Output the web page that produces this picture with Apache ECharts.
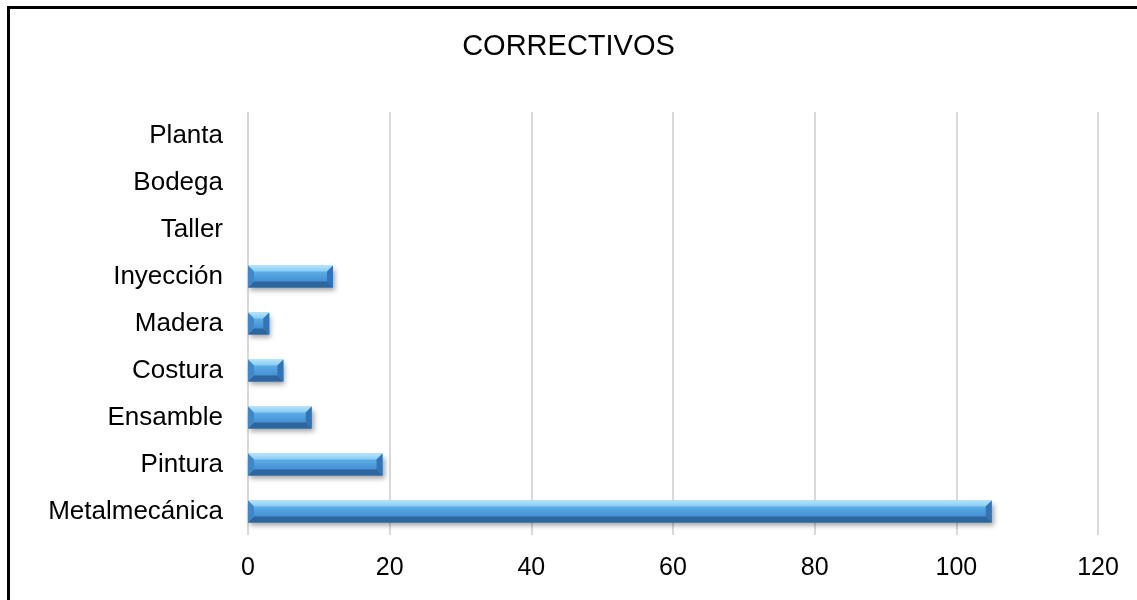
<!DOCTYPE html>
<html>
<head>
<meta charset="utf-8">
<script src="https://cdn.jsdelivr.net/npm/echarts@6/dist/echarts.min.js"></script>
<style>
  html, body { margin: 0; padding: 0; background: #fff; }
  #chart { width: 1137px; height: 600px; }
</style>
</head>
<body>
<div id="chart"></div>
<script>
const categories = ['Metalmecánica', 'Pintura', 'Ensamble', 'Costura', 'Madera', 'Inyección', 'Taller', 'Bodega', 'Planta'];
const values = [105, 19, 9, 5, 3, 12, 0, 0, 0];
const xTicks = [0, 20, 40, 60, 80, 100, 120];

const chart = echarts.init(document.getElementById('chart'));

const BAR_H = 22;

function renderBevelBar(params, api) {
  const idx = api.value(0);
  const val = api.value(1);
  if (!val) return null;
  const start = api.coord([0, idx]);
  const end = api.coord([val, idx]);
  const x0 = start[0], x1 = end[0];
  const y0 = start[1] - BAR_H / 2, y1 = start[1] + BAR_H / 2;
  const w = x1 - x0;
  const b = Math.min(6, w / 2, BAR_H / 2);
  return {
    type: 'group',
    children: [
      {
        type: 'rect',
        shape: { x: x0, y: y0, width: w, height: BAR_H },
        style: {
          fill: new echarts.graphic.LinearGradient(0, 0, 0, 1, [
            { offset: 0, color: '#72c0f0' },
            { offset: 0.5, color: '#4f9edd' },
            { offset: 1, color: '#3a7fc1' }
          ]),
          shadowBlur: 5,
          shadowOffsetX: 2,
          shadowOffsetY: 3,
          shadowColor: 'rgba(0,0,0,0.35)'
        }
      },
      { // top bevel
        type: 'polygon',
        shape: { points: [[x0, y0], [x1, y0], [x1 - b, y0 + b], [x0 + b, y0 + b]] },
        style: {
          fill: new echarts.graphic.LinearGradient(0, 0, 0, 1, [
            { offset: 0, color: '#b5e3fa' },
            { offset: 1, color: '#86ccf3' }
          ])
        }
      },
      { // bottom bevel
        type: 'polygon',
        shape: { points: [[x0, y1], [x1, y1], [x1 - b, y1 - b], [x0 + b, y1 - b]] },
        style: { fill: '#2d659e' }
      },
      { // left bevel
        type: 'polygon',
        shape: { points: [[x0, y0], [x0 + b, y0 + b], [x0 + b, y1 - b], [x0, y1]] },
        style: { fill: '#3d88cb' }
      },
      { // right bevel
        type: 'polygon',
        shape: { points: [[x1, y0], [x1 - b, y0 + b], [x1 - b, y1 - b], [x1, y1]] },
        style: { fill: '#3274b4' }
      }
    ]
  };
}

const option = {
  animation: false,
  backgroundColor: '#fff',
  textStyle: { fontFamily: 'Liberation Sans, Arial, sans-serif' },
  graphic: [{
    type: 'rect',
    left: 6, top: 5,
    shape: { width: 1150, height: 620 },
    style: { fill: 'none', stroke: '#000', lineWidth: 3 },
    silent: true
  }],
  title: {
    text: 'CORRECTIVOS',
    left: 'center',
    top: 27,
    textStyle: { fontSize: 29, fontWeight: 'normal', color: '#000', fontFamily: 'Liberation Sans, Arial, sans-serif' }
  },
  grid: { left: 248, right: 39, top: 112, bottom: 65, containLabel: false },
  xAxis: {
    type: 'value',
    min: 0, max: 120, interval: 20,
    axisLine: { show: false },
    axisTick: { show: false },
    splitLine: { show: true, lineStyle: { color: '#d9d9d9', width: 2 } },
    axisLabel: {
      fontSize: 25, color: '#000', margin: 21,
      formatter: v => xTicks.includes(v) ? String(v) : ''
    }
  },
  yAxis: {
    type: 'category',
    data: categories,
    axisLine: { show: false },
    axisTick: { show: false },
    axisLabel: { fontSize: 26, color: '#000', margin: 25, padding: [6, 0, 0, 0] }
  },
  series: [{
    type: 'custom',
    renderItem: renderBevelBar,
    encode: { x: 1, y: 0 },
    data: values.map((v, i) => [i, v])
  }]
};

chart.setOption(option);
</script>
</body>
</html>
